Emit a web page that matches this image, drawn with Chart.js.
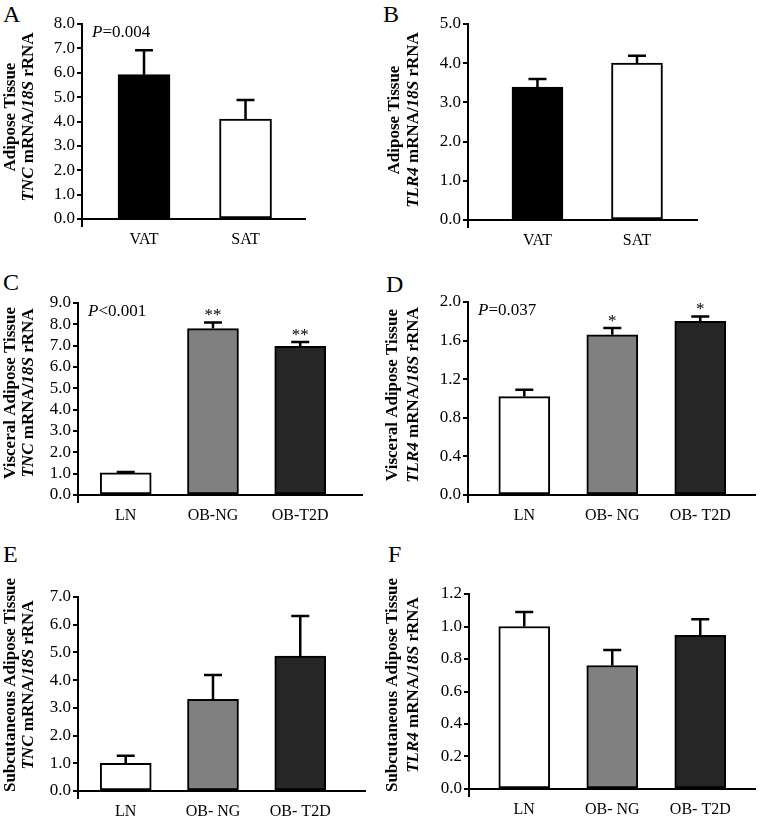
<!DOCTYPE html>
<html>
<head>
<meta charset="utf-8">
<script src="https://cdn.jsdelivr.net/npm/chart.js@4.4.1/dist/chart.umd.min.js"></script>
<style>
  body { margin: 0; background: #fff; }
  #fig { position: relative; width: 762px; height: 816px; overflow: hidden; }
  #fig canvas { position: absolute; }
  .tag { position: absolute; font: 24px "Liberation Serif", serif; line-height: 24px; color: #000; }
</style>
</head>
<body>
<div id="fig">
  <div class="tag" style="left:3px;top:2px">A</div>
  <div class="tag" style="left:383px;top:2px">B</div>
  <div class="tag" style="left:3px;top:270px">C</div>
  <div class="tag" style="left:386px;top:272px">D</div>
  <div class="tag" style="left:3px;top:542px">E</div>
  <div class="tag" style="left:388px;top:542px">F</div>
</div>
<script>
// categories
const depots = ['VAT', 'SAT'];
const groupsVat = ['LN', 'OB-NG', 'OB-T2D'];
const groups = ['LN', 'OB- NG', 'OB- T2D'];

// means and SEM
const tncDepot = [5.92, 4.10];
const tncDepotSem = [1.00, 0.78];
const tlr4Depot = [3.39, 4.00];
const tlr4DepotSem = [0.21, 0.19];
const tncVat = [1.04, 7.80, 6.97];
const tncVatSem = [0.04, 0.29, 0.20];
const tlr4Vat = [1.02, 1.66, 1.80];
const tlr4VatSem = [0.07, 0.07, 0.05];
const tncSat = [1.00, 3.31, 4.87];
const tncSatSem = [0.27, 0.88, 1.44];
const tlr4Sat = [1.00, 0.76, 0.945];
const tlr4SatSem = [0.09, 0.095, 0.10];

const starsTncVat = ['', '**', '**'];
const starsTlr4Vat = ['', '*', '*'];

// y tick values
const ticksA = [0, 1, 2, 3, 4, 5, 6, 7, 8];
const ticksB = [0, 1, 2, 3, 4, 5];
const ticksC = [0, 1, 2, 3, 4, 5, 6, 7, 8, 9];
const ticksD = [0, 0.4, 0.8, 1.2, 1.6, 2.0];
const ticksE = [0, 1, 2, 3, 4, 5, 6, 7];
const ticksF = [0, 0.2, 0.4, 0.6, 0.8, 1.0, 1.2];

const depotColors = ['#000000', '#ffffff'];
const groupColors = ['#ffffff', '#808080', '#262626'];

const SERIF = '"Liberation Serif", "Times New Roman", serif';
const TNC = [['TNC', true], [' mRNA/', false], ['18S', true], [' rRNA', false]];
const TLR4 = [['TLR4', true], [' mRNA/', false], ['18S', true], [' rRNA', false]];

const fig = document.getElementById('fig');

function drawRotLine(ctx, segs, x, yc) {
  ctx.save();
  ctx.translate(x, yc);
  ctx.rotate(-Math.PI / 2);
  ctx.textBaseline = 'middle';
  ctx.textAlign = 'left';
  let total = 0;
  segs.forEach(s => {
    ctx.font = (s[1] ? 'italic ' : '') + 'bold 17px ' + SERIF;
    total += ctx.measureText(s[0]).width;
  });
  let px = -total / 2;
  segs.forEach(s => {
    ctx.font = (s[1] ? 'italic ' : '') + 'bold 17px ' + SERIF;
    ctx.fillText(s[0], px, 0);
    px += ctx.measureText(s[0]).width;
  });
  ctx.restore();
}

function decorFor(p) {
  return {
    id: 'decor',
    afterDraw(chart) {
      const ctx = chart.ctx;
      const {left, top, bottom} = chart.chartArea;
      const ys = chart.scales.y;
      const meta = chart.getDatasetMeta(0);
      ctx.save();
      ctx.strokeStyle = '#000';
      ctx.fillStyle = '#000';
      // y axis runs a little below the baseline
      ctx.lineWidth = 2;
      ctx.beginPath();
      ctx.moveTo(left, bottom);
      ctx.lineTo(left, bottom + 8);
      ctx.stroke();
      // error bars (upper only) and significance marks
      ctx.lineWidth = 2.5;
      meta.data.forEach((bar, i) => {
        const yTop = ys.getPixelForValue(p.values[i] + p.sem[i]);
        ctx.beginPath();
        ctx.moveTo(bar.x, bar.y);
        ctx.lineTo(bar.x, yTop);
        ctx.moveTo(bar.x - 9, yTop);
        ctx.lineTo(bar.x + 9, yTop);
        ctx.stroke();
        if (p.stars && p.stars[i]) {
          ctx.font = '17px ' + SERIF;
          ctx.textAlign = 'center';
          ctx.textBaseline = 'alphabetic';
          ctx.fillText(p.stars[i], bar.x, yTop - 2);
        }
      });
      // p value
      if (p.pval) {
        ctx.textBaseline = 'middle';
        ctx.textAlign = 'left';
        ctx.font = 'italic 17px ' + SERIF;
        const x0 = left + 10;
        ctx.fillText('P', x0, top + 9);
        const w = ctx.measureText('P').width;
        ctx.font = '17px ' + SERIF;
        ctx.fillText(p.pval, x0 + w, top + 9);
      }
      // two-line y title
      const yc = p.titleY - p.box[1];
      drawRotLine(ctx, [[p.title, false]], p.titleX[0], yc);
      drawRotLine(ctx, p.gene, p.titleX[1], yc);
      ctx.restore();
    }
  };
}

function panel(p) {
  const [bx, by, bw, bh] = p.box;
  const [L, T, R, B] = p.plot;
  const canvas = document.createElement('canvas');
  canvas.width = bw;
  canvas.height = bh;
  canvas.style.left = bx + 'px';
  canvas.style.top = by + 'px';
  fig.appendChild(canvas);
  new Chart(canvas, {
    type: 'bar',
    data: {
      datasets: [{
        data: p.values.map((v, i) => ({ x: i, y: v })),
        backgroundColor: p.colors,
        borderColor: '#000',
        borderWidth: 2,
        borderSkipped: false,
        barThickness: p.barW
      }]
    },
    options: {
      responsive: false,
      animation: false,
      devicePixelRatio: 1,
      layout: { padding: { left: L - bx - 40, top: T - by, right: bx + bw - R, bottom: by + bh - B - 36 } },
      plugins: { legend: { display: false }, tooltip: { enabled: false } },
      scales: {
        x: {
          type: 'linear',
          offset: false,
          min: p.xRange[0],
          max: p.xRange[1],
          afterBuildTicks: s => { s.ticks = p.labels.map((l, i) => ({ value: i })); },
          afterFit: s => { s.height = 36; },
          grid: { display: false },
          border: { color: '#000', width: 2 },
          ticks: { callback: v => p.labels[v], font: { family: SERIF, size: 16 }, color: '#000', padding: 3, maxRotation: 0, autoSkip: false }
        },
        y: {
          min: 0,
          max: p.ticks[p.ticks.length - 1],
          afterBuildTicks: s => { s.ticks = p.ticks.map(v => ({ value: v })); },
          afterFit: s => { s.width = 40; },
          grid: { drawOnChartArea: false, tickLength: 5, color: '#000', lineWidth: 2 },
          border: { color: '#000', width: 2 },
          ticks: { callback: v => v.toFixed(1), font: { family: SERIF, size: 17 }, color: '#000', padding: 2, autoSkip: false }
        }
      }
    },
    plugins: [decorFor(p)]
  });
}

panel({ box: [0, 0, 381, 270], plot: [82, 24, 305, 219], xRange: [-0.611, 1.586], barW: 52,
  labels: depots, values: tncDepot, sem: tncDepotSem, colors: depotColors, ticks: ticksA,
  pval: '=0.004', title: 'Adipose Tissue', gene: TNC, titleX: [11, 29], titleY: 117 });
panel({ box: [381, 0, 381, 270], plot: [468, 24, 697, 220], xRange: [-0.698, 1.603], barW: 51,
  labels: depots, values: tlr4Depot, sem: tlr4DepotSem, colors: depotColors, ticks: ticksB,
  title: 'Adipose Tissue', gene: TLR4, titleX: [14, 33], titleY: 120 });
panel({ box: [0, 270, 381, 270], plot: [78, 303, 362, 495], xRange: [-0.547, 2.708], barW: 51,
  labels: groupsVat, values: tncVat, sem: tncVatSem, colors: groupColors, ticks: ticksC, stars: starsTncVat,
  pval: '<0.001', title: 'Visceral Adipose Tissue', gene: TNC, titleX: [11, 29], titleY: 393 });
panel({ box: [381, 270, 381, 270], plot: [468, 302, 755, 495], xRange: [-0.640, 2.622], barW: 51,
  labels: groups, values: tlr4Vat, sem: tlr4VatSem, colors: groupColors, ticks: ticksD, stars: starsTlr4Vat,
  pval: '=0.037', title: 'Visceral Adipose Tissue', gene: TLR4, titleX: [12, 33], titleY: 395 });
panel({ box: [0, 540, 381, 300], plot: [78, 597, 365, 791], xRange: [-0.547, 2.742], barW: 51,
  labels: groups, values: tncSat, sem: tncSatSem, colors: groupColors, ticks: ticksE,
  title: 'Subcutaneous Adipose Tissue', gene: TNC, titleX: [11, 29], titleY: 685 });
panel({ box: [381, 540, 381, 300], plot: [469, 594, 755, 789], xRange: [-0.628, 2.622], barW: 51,
  labels: groups, values: tlr4Sat, sem: tlr4SatSem, colors: groupColors, ticks: ticksF,
  title: 'Subcutaneous Adipose Tissue', gene: TLR4, titleX: [12, 33], titleY: 685 });
</script>
</body>
</html>
